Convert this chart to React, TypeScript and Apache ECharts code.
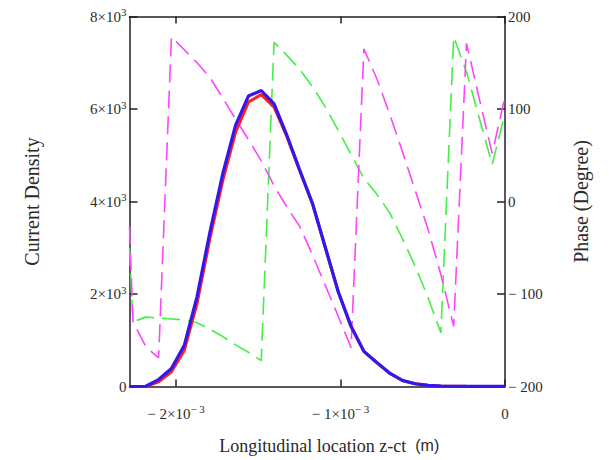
import React, { useEffect, useRef } from "react";
import * as echarts from "echarts";

// longitudinal positions z-ct (m); first entry sits on the left edge of the plot
const zPos = [
  -2.283e-3, -2.262e-3, -2.184e-3, -2.106e-3, -2.028e-3, -1.95e-3, -1.872e-3, -1.794e-3,
  -1.716e-3, -1.638e-3, -1.56e-3, -1.482e-3, -1.404e-3, -1.326e-3, -1.248e-3, -1.17e-3,
  -1.092e-3, -1.014e-3, -0.936e-3, -0.858e-3, -0.78e-3, -0.702e-3, -0.624e-3, -0.546e-3,
  -0.468e-3, -0.39e-3, -0.312e-3, -0.234e-3, -0.156e-3, -0.078e-3, 0,
];

// current density (blue, solid)
const densityBlue = [
  0, 0, 5, 150, 390, 890, 1950, 3340, 4600, 5650, 6280, 6400, 6110, 5430, 4680, 3950,
  3000, 2050, 1300, 760, 520, 290, 130, 60, 25, 10, 5, 3, 2, 1, 1,
];

// current density (red, solid)
const densityRed = [
  0, 0, 0, 100, 320, 780, 1800, 3200, 4450, 5500, 6150, 6310, 6040, 5400, 4660, 3950,
  3000, 2050, 1300, 760, 520, 290, 130, 60, 25, 10, 5, 3, 2, 1, 1,
];

// phase in degrees (green, dashed)
const phaseGreen = [
  -50, -130, -125, -126, -127, -128, -131, -138, -146, -155, -163, -172, 172, 158, 143, 124,
  102, 77, 51, 25, 8, -12, -40, -70, -104, -142, 178, 140, 90, 40, 95,
];

// phase in degrees (magenta, dashed)
const phaseMagenta = [
  -27, -130, -157, -169, 178, 164, 150, 134, 112, 89, 67, 44, 17, -6, -27, -58, -91, -124,
  -158, 165, 133, 95, 54, 12, -30, -79, -135, 171, 111, 52, 113,
];

const xTicks = [-2e-3, -1e-3, 0];

const SERIF = "'Liberation Serif', 'DejaVu Serif', serif";
const TXT = "#2a2a2a";

const pair = (ys: number[]) => zPos.map((z, i) => [z, ys[i]]);

export default function App() {
  const ref = useRef<HTMLDivElement>(null);
  useEffect(() => {
    if (!ref.current) return;
    const chart = echarts.init(ref.current, undefined, { renderer: "svg" });
    const richSup = {
      a: { fontFamily: SERIF, fontSize: 15, color: TXT, lineHeight: 20 },
      s: { fontFamily: SERIF, fontSize: 11, color: TXT, lineHeight: 10, verticalAlign: "top" },
    };
    const axisLineStyle = { color: "#222", width: 1.5 };
    chart.setOption({
      animation: false,
      grid: { left: 129.5, right: 104, top: 16.5, bottom: 73.5, containLabel: false },
      xAxis: [
        {
          type: "value",
          min: -2.283e-3,
          max: 0,
          position: "bottom",
          name: "{t|Longitudinal location z-ct  }{m|(m)}",
          nameLocation: "middle",
          nameGap: 50,
          nameTextStyle: {
            padding: [0, 0, 0, 24],
            rich: {
              t: { fontFamily: SERIF, fontSize: 18, color: TXT },
              m: { fontFamily: "'Liberation Sans', sans-serif", fontSize: 16, color: TXT },
            },
          },
          axisLine: { show: true, onZero: false, lineStyle: axisLineStyle },
          axisTick: { show: true, inside: true, length: 7, customValues: xTicks, lineStyle: axisLineStyle },
          axisLabel: {
            customValues: xTicks,
            margin: 17,
            formatter: (v: number) =>
              Math.abs(v) < 1e-12 ? "{a|0}" : `{a|− ${Math.round(-v * 1000)}×10}{s|− 3}`,
            rich: richSup,
          },
          splitLine: { show: false },
        },
        {
          type: "value",
          min: -2.283e-3,
          max: 0,
          position: "top",
          axisLine: { show: true, onZero: false, lineStyle: axisLineStyle },
          axisTick: { show: true, inside: true, length: 7, customValues: xTicks, lineStyle: axisLineStyle },
          axisLabel: { show: false },
          splitLine: { show: false },
        },
      ],
      yAxis: [
        {
          type: "value",
          min: 0,
          max: 8000,
          interval: 2000,
          position: "left",
          name: "Current Density",
          nameLocation: "middle",
          nameGap: 88,
          nameTextStyle: { fontFamily: SERIF, fontSize: 20, color: TXT },
          axisLine: { show: true, onZero: false, lineStyle: axisLineStyle },
          axisTick: { show: true, inside: true, length: 8, lineStyle: axisLineStyle },
          axisLabel: {
            margin: 3,
            formatter: (v: number) => (v === 0 ? "{a|0}" : `{a|${v / 1000}×10}{s|3}`),
            rich: richSup,
          },
          splitLine: { show: false },
        },
        {
          type: "value",
          min: -200,
          max: 200,
          interval: 100,
          position: "right",
          name: "Phase (Degree)",
          nameLocation: "middle",
          nameGap: 66,
          nameTextStyle: { fontFamily: SERIF, fontSize: 20, color: TXT },
          axisLine: { show: true, onZero: false, lineStyle: axisLineStyle },
          axisTick: { show: true, inside: true, length: 8, lineStyle: axisLineStyle },
          axisLabel: {
            margin: 3,
            fontFamily: SERIF,
            fontSize: 15,
            color: TXT,
            formatter: (v: number) => (v < 0 ? `− ${-v}` : `${v}`),
          },
          splitLine: { show: false },
        },
      ],
      series: [
        {
          type: "line",
          yAxisIndex: 1,
          data: pair(phaseGreen),
          symbol: "none",
          lineStyle: { color: "#44ee44", width: 1.6, type: [18, 8] },
        },
        {
          type: "line",
          yAxisIndex: 1,
          data: pair(phaseMagenta),
          symbol: "none",
          lineStyle: { color: "#ff44ff", width: 1.6, type: [18, 8] },
        },
        {
          type: "line",
          yAxisIndex: 0,
          data: pair(densityRed),
          symbol: "none",
          lineStyle: { color: "#ff2020", width: 3 },
        },
        {
          type: "line",
          yAxisIndex: 0,
          data: pair(densityBlue),
          symbol: "none",
          lineStyle: { color: "#3318ee", width: 3.2 },
        },
      ],
    });
    return () => chart.dispose();
  }, []);
  return (
    <div
      ref={ref}
      style={{ position: "fixed", left: 0, top: 0, width: 609, height: 460, background: "#fff" }}
    />
  );
}
